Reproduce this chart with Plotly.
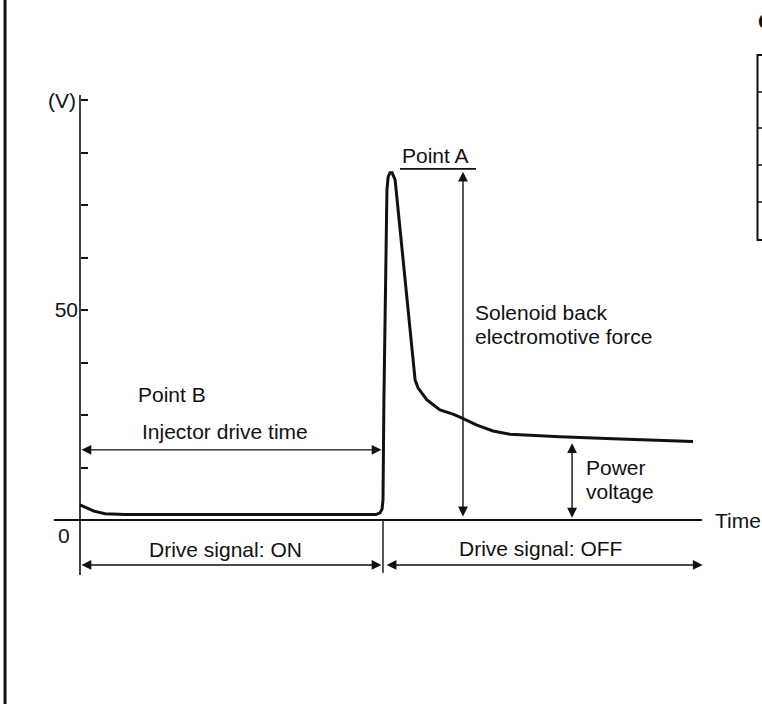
import plotly.graph_objects as go

# Injector terminal voltage waveform (time in arbitrary units, voltage in V)
time_pts = [0.00, 0.20, 0.46, 0.83, 1.49, 9.77, 9.90, 9.97, 10.00, 10.03, 10.10,
            10.13, 10.17, 10.23, 10.30, 10.36, 10.40, 11.06, 11.16, 11.45, 11.88,
            12.31, 12.54, 13.10, 13.63, 14.19, 15.84, 17.82, 20.23]
volt_pts = [3.6, 2.9, 2.1, 1.5, 1.3, 1.3, 1.7, 2.6, 4.8, 28.6, 61.9,
            78.6, 81.7, 82.7, 82.7, 81.9, 81.0, 33.3, 31.4, 28.6, 26.2,
            25.2, 24.5, 22.6, 21.2, 20.4, 19.8, 19.3, 18.7]

# Voltage axis ticks
y_tick_vals = [12.5, 25, 37.5, 50, 62.5, 75, 87.5, 100]
y_tick_text = ["", "", "", "50", "", "", "", ""]

# Timing of the drive signal
drive_on_start = 0.0
drive_on_end = 10.0
drive_off_end = 20.55
time_axis_end = 20.53
time_axis_start = -0.86

# Reference levels
power_voltage = 18.3
peak_voltage = 82.9

FONT = "Liberation Sans, Arial, Helvetica, sans-serif"
INK = "#111111"
FS = 21

fig = go.Figure()

fig.add_trace(go.Scatter(
    x=time_pts, y=volt_pts, mode="lines",
    line=dict(color=INK, width=3), hoverinfo="skip", showlegend=False,
))

shapes = []
# Voltage axis line and horizontal time axis
shapes.append(dict(type="line", xref="x", yref="y", x0=0, x1=0, y0=-13.1, y1=101.2,
                   line=dict(color=INK, width=1.6)))
shapes.append(dict(type="line", xref="x", yref="y", x0=time_axis_start, x1=time_axis_end,
                   y0=0, y1=0, line=dict(color=INK, width=1.8)))
# Divider below the axis at the end of the drive signal
shapes.append(dict(type="line", xref="x", yref="y", x0=drive_on_end, x1=drive_on_end,
                   y0=0, y1=-12.6, line=dict(color=INK, width=1.4)))
# Bar above the back-EMF arrow
shapes.append(dict(type="line", xref="x", yref="y", x0=10.56, x1=13.07,
                   y0=83.6, y1=83.6, line=dict(color=INK, width=1.6)))
# Page frame line on the left
shapes.append(dict(type="line", xref="paper", yref="paper", x0=0.0066, x1=0.0066,
                   y0=0, y1=1, line=dict(color=INK, width=3)))
# Table at the right page edge
table_rows = [0.8693, 0.8182, 0.7656, 0.7131]
shapes.append(dict(type="rect", xref="paper", yref="paper", x0=0.9941, x1=1.05,
                   y0=0.6591, y1=0.9219, line=dict(color=INK, width=2)))
for r in table_rows:
    shapes.append(dict(type="line", xref="paper", yref="paper", x0=0.9941, x1=1.05,
                       y0=r, y1=r, line=dict(color=INK, width=1.5)))

annotations = []


def text(x, y, s, xanchor="center", size=FS, **kw):
    annotations.append(dict(x=x, y=y, xref="x", yref="y", text=s, showarrow=False,
                            xanchor=xanchor, yanchor="middle",
                            font=dict(family=FONT, size=size, color=INK), **kw))


def double_arrow(x0, y0, x1, y1):
    annotations.append(dict(x=x1, y=y1, ax=x0, ay=y0, xref="x", yref="y",
                            axref="x", ayref="y", text="", showarrow=True,
                            arrowhead=2, startarrowhead=2, arrowside="end+start",
                            arrowsize=1.4, startarrowsize=1.4, arrowwidth=1.4,
                            arrowcolor=INK))


text(-0.08, 100, "(V)", xanchor="right")
text(-0.53, -3.6, "0")
text(3.04, 29.8, "Point B")
text(4.79, 21.0, "Injector drive time")
text(4.79, -7.1, "Drive signal: ON")
text(15.21, -6.7, "Drive signal: OFF")
text(20.89, 0, "Time", xanchor="left")
text(11.72, 86.9, "Point A")
text(12.97, 49.4, "Solenoid back", xanchor="left")
text(12.97, 43.8, "electromotive force", xanchor="left")
text(16.63, 12.5, "Power", xanchor="left")
text(16.63, 6.8, "voltage", xanchor="left")

double_arrow(drive_on_start, 16.7, 9.95, 16.7)
double_arrow(drive_on_start, -10.7, 9.95, -10.7)
double_arrow(10.07, -10.7, drive_off_end, -10.7)
double_arrow(12.64, 0.5, 12.64, peak_voltage)
double_arrow(16.24, 0.2, 16.24, power_voltage)

# Heading letter at the right page edge
annotations.append(dict(x=0.9925, y=0.970, xref="paper", yref="paper", text="<b>C</b>",
                        showarrow=False, xanchor="left", yanchor="middle",
                        font=dict(family=FONT, size=22, color=INK)))

fig.update_layout(
    width=762, height=704, autosize=False,
    margin=dict(l=0, r=0, t=0, b=0, pad=0),
    paper_bgcolor="white", plot_bgcolor="white",
    showlegend=False,
    shapes=shapes, annotations=annotations,
    xaxis=dict(range=[-2.640, 22.508], visible=False, fixedrange=True),
    yaxis=dict(range=[-43.81, 123.81], anchor="free", position=0.1050,
               showline=False, showgrid=False, zeroline=False,
               ticks="inside", ticklen=7, tickwidth=1.5, tickcolor=INK,
               tickvals=y_tick_vals, ticktext=y_tick_text,
               ticklabelstandoff=2,
               tickfont=dict(family=FONT, size=FS, color=INK),
               automargin=False, fixedrange=True),
)

fig.write_html("out.html")
